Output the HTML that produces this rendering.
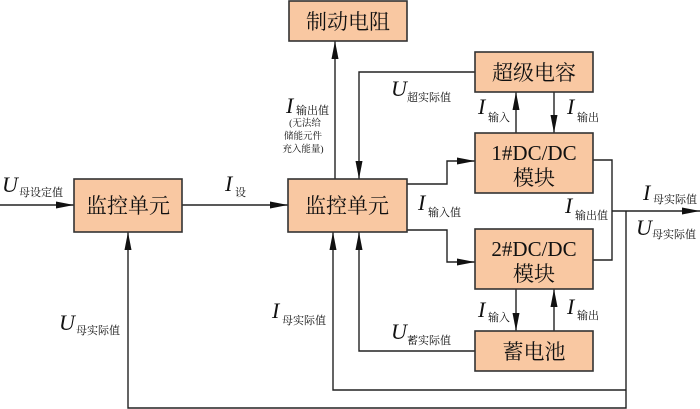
<!DOCTYPE html>
<html><head><meta charset="utf-8"><style>
body{margin:0;background:#fff}
svg{display:block}
.b{fill:#f9c8a2;stroke:#333;stroke-width:1.6}
.l{fill:none;stroke:#222;stroke-width:1.4}
.t{font-family:"Liberation Serif","Noto Serif CJK SC",serif;font-size:21px;fill:#111;text-anchor:middle}
.v{font-family:"Liberation Serif",serif;font-style:italic;font-size:22px;fill:#111}
.s{font-family:"Liberation Serif","Noto Serif CJK SC",serif;font-size:11px;fill:#111}
.n{font-family:"Liberation Serif","Noto Serif CJK SC",serif;font-size:9.5px;fill:#111;text-anchor:middle}
</style></head><body>
<svg width="700" height="409" viewBox="0 0 700 409" xmlns="http://www.w3.org/2000/svg">
<defs><marker id="a" viewBox="0 0 10 6" refX="10" refY="3" markerWidth="10" markerHeight="6" markerUnits="userSpaceOnUse" orient="auto"><path d="M0,0L10,3L0,6z" fill="#111"/></marker>
<marker id="c" viewBox="0 0 18 7" refX="18" refY="3.5" markerWidth="18" markerHeight="7" markerUnits="userSpaceOnUse" orient="auto"><path d="M0,0L18,3.5L0,7z" fill="#111"/></marker></defs>

<!-- lines -->
<path class="l" d="M0,205H74" marker-end="url(#c)"/>
<path class="l" d="M182,205H288" marker-end="url(#c)"/>
<path class="l" d="M335,179V41" marker-end="url(#c)"/>
<path class="l" d="M475,72H359V179" marker-end="url(#c)"/>
<path class="l" d="M407,184H447V161H475" marker-end="url(#c)"/>
<path class="l" d="M407,230H447V262H475" marker-end="url(#c)"/>
<path class="l" d="M516,133V92" marker-end="url(#c)"/>
<path class="l" d="M554,92V133" marker-end="url(#c)"/>
<path class="l" d="M516,289V331" marker-end="url(#c)"/>
<path class="l" d="M554,331V289" marker-end="url(#c)"/>
<path class="l" d="M593,160H612V260H593"/>
<path class="l" d="M612,211H700" marker-end="url(#c)"/>
<path class="l" d="M626,211V408H128V232" marker-end="url(#c)"/>
<path class="l" d="M626,390H333V232" marker-end="url(#c)"/>
<path class="l" d="M475,351H359V232" marker-end="url(#c)"/>

<!-- boxes -->
<rect class="b" x="289" y="1" width="118" height="40"/>
<text class="t" x="348" y="29">制动电阻</text>
<rect class="b" x="475" y="52" width="118" height="40"/>
<text class="t" x="534" y="80">超级电容</text>
<rect class="b" x="475" y="133" width="118" height="60"/>
<text class="t" x="534" y="160">1#DC/DC</text><text class="t" x="534" y="185">模块</text>
<rect class="b" x="475" y="229" width="118" height="60"/>
<text class="t" x="534" y="256">2#DC/DC</text><text class="t" x="534" y="281">模块</text>
<rect class="b" x="475" y="331" width="118" height="40"/>
<text class="t" x="534" y="359">蓄电池</text>
<rect class="b" x="74" y="179" width="108" height="53"/>
<text class="t" x="128" y="213">监控单元</text>
<rect class="b" x="288" y="179" width="119" height="53"/>
<text class="t" x="347" y="213">监控单元</text>

<!-- labels -->
<text class="v" x="2" y="192">U</text><text class="s" x="19" y="196">母设定值</text>
<text class="v" x="225" y="191">I</text><text class="s" x="235" y="196">设</text>
<text class="v" x="286" y="113">I</text><text class="s" x="296" y="114">输出值</text>
<text class="n" x="305" y="126">(无法给</text><text class="n" x="303" y="139">储能元件</text><text class="n" x="303" y="152">充入能量)</text>
<text class="v" x="391" y="96">U</text><text class="s" x="407" y="101">超实际值</text>
<text class="v" x="478" y="114">I</text><text class="s" x="488" y="121">输入</text>
<text class="v" x="567" y="114">I</text><text class="s" x="577" y="121">输出</text>
<text class="v" x="418" y="210">I</text><text class="s" x="428" y="216">输入值</text>
<text class="v" x="565" y="213">I</text><text class="s" x="575" y="219">输出值</text>
<text class="v" x="643" y="200">I</text><text class="s" x="653" y="203">母实际值</text>
<text class="v" x="636" y="235">U</text><text class="s" x="652" y="238">母实际值</text>
<text class="v" x="478" y="317">I</text><text class="s" x="488" y="321">输入</text>
<text class="v" x="567" y="314">I</text><text class="s" x="577" y="319">输出</text>
<text class="v" x="391" y="339">U</text><text class="s" x="407" y="344">蓄实际值</text>
<text class="v" x="59" y="330">U</text><text class="s" x="76" y="334">母实际值</text>
<text class="v" x="272" y="318">I</text><text class="s" x="282" y="324">母实际值</text>
</svg>
</body></html>
